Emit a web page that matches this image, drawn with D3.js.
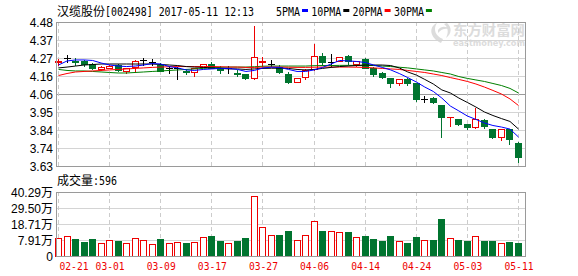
<!DOCTYPE html>
<html><head><meta charset="utf-8">
<script src="https://cdn.jsdelivr.net/npm/d3@7"></script>
<style>
body{margin:0;background:#fff}
svg{display:block}
</style>
</head><body>
<svg id="c" width="578" height="276"></svg>
<script>
// ---------------- DATA ----------------
const dates = ["02-21","02-22","02-23","02-24","02-27","02-28","03-01","03-02","03-03","03-06","03-07","03-08","03-09","03-10","03-13","03-14","03-15","03-16","03-17","03-20","03-21","03-22","03-23","03-24","03-27","03-28","03-29","03-30","03-31","04-05","04-06","04-07","04-10","04-11","04-12","04-13","04-14","04-17","04-18","04-19","04-20","04-21","04-24","04-25","04-26","04-27","04-28","05-02","05-03","05-04","05-05","05-08","05-09","05-10","05-11"];
const openP  = [4.246,4.265,4.250,4.247,4.232,4.201,4.211,4.226,4.188,4.216,4.256,4.246,4.226,4.211,4.206,4.190,4.185,4.216,4.230,4.209,4.207,4.180,4.173,4.149,4.246,4.235,4.214,4.173,4.126,4.155,4.200,4.282,4.241,4.250,4.278,4.232,4.260,4.206,4.177,4.148,4.122,4.142,4.118,4.027,4.030,3.990,3.917,3.907,3.876,3.860,3.904,3.847,3.799,3.847,3.763];
const highP  = [4.262,4.285,4.265,4.256,4.238,4.220,4.229,4.232,4.211,4.253,4.270,4.260,4.240,4.220,4.213,4.203,4.211,4.235,4.246,4.220,4.220,4.194,4.176,4.456,4.273,4.256,4.226,4.187,4.152,4.200,4.350,4.299,4.294,4.276,4.285,4.250,4.270,4.214,4.182,4.149,4.144,4.152,4.120,4.043,4.039,3.993,3.919,3.910,3.879,3.975,3.907,3.848,3.848,3.850,3.773];
const lowP   = [4.226,4.244,4.226,4.220,4.203,4.197,4.206,4.191,4.177,4.185,4.226,4.226,4.191,4.181,4.142,4.173,4.164,4.214,4.206,4.181,4.179,4.161,4.141,4.141,4.223,4.220,4.179,4.120,4.123,4.146,4.197,4.226,4.220,4.247,4.235,4.220,4.206,4.161,4.149,4.098,4.111,4.108,4.014,4.010,4.002,3.799,3.869,3.872,3.851,3.854,3.853,3.798,3.783,3.760,3.655];
const closeP = [4.248,4.265,4.241,4.232,4.206,4.216,4.223,4.197,4.209,4.250,4.256,4.246,4.193,4.211,4.206,4.186,4.209,4.230,4.209,4.194,4.207,4.175,4.152,4.272,4.248,4.235,4.182,4.123,4.149,4.197,4.278,4.245,4.241,4.272,4.250,4.247,4.209,4.176,4.154,4.122,4.142,4.120,4.023,4.027,4.010,3.921,3.919,3.878,3.860,3.906,3.869,3.799,3.847,3.788,3.681];
// volume, unit 万
const volume = [9.06,10.4,8.6,6.76,8.6,5.89,7.91,7.24,5.89,9.06,7.71,5.01,8.6,5.89,6.36,5.89,6.36,9.73,10.6,7.24,5.89,7.24,9.26,37.6,16.5,11.1,11.3,14.0,7.71,11.1,20.5,14.0,13.8,13.3,13.3,9.73,10.6,8.6,7.24,10.6,7.24,5.89,9.93,7.71,7.71,22.1,9.06,7.91,7.24,10.4,7.24,7.24,5.69,6.56,5.89];
const ma5  = [4.226,4.250,4.256,4.256,4.253,4.238,4.226,4.220,4.217,4.220,4.226,4.235,4.232,4.217,4.209,4.197,4.194,4.200,4.203,4.206,4.206,4.200,4.188,4.194,4.209,4.213,4.212,4.200,4.188,4.188,4.197,4.212,4.232,4.253,4.250,4.247,4.241,4.226,4.212,4.197,4.176,4.152,4.126,4.096,4.070,4.031,3.984,3.955,3.925,3.905,3.884,3.869,3.860,3.848,3.801];
const ma10 = [4.209,4.214,4.220,4.226,4.229,4.232,4.232,4.232,4.232,4.232,4.232,4.232,4.229,4.226,4.223,4.217,4.214,4.212,4.209,4.206,4.203,4.203,4.200,4.203,4.206,4.207,4.207,4.206,4.200,4.197,4.200,4.206,4.212,4.217,4.220,4.223,4.226,4.226,4.226,4.223,4.209,4.185,4.167,4.141,4.114,4.079,4.061,4.031,4.005,3.978,3.949,3.928,3.910,3.893,3.848];
const ma20 = [4.164,4.176,4.185,4.188,4.191,4.194,4.197,4.200,4.203,4.206,4.209,4.212,4.214,4.216,4.217,4.217,4.217,4.217,4.217,4.216,4.214,4.214,4.212,4.212,4.214,4.214,4.214,4.213,4.212,4.212,4.213,4.214,4.214,4.214,4.214,4.213,4.212,4.209,4.206,4.203,4.200,4.194,4.188,4.182,4.173,4.164,4.152,4.141,4.129,4.114,4.096,4.076,4.055,4.026,3.987];
const ma30 = [4.200,4.194,4.191,4.191,4.188,4.185,4.182,4.179,4.179,4.182,4.185,4.188,4.191,4.194,4.197,4.200,4.203,4.206,4.209,4.212,4.214,4.214,4.214,4.216,4.219,4.220,4.220,4.220,4.220,4.220,4.222,4.223,4.223,4.224,4.224,4.224,4.224,4.223,4.220,4.217,4.213,4.209,4.203,4.197,4.191,4.182,4.173,4.158,4.147,4.138,4.129,4.117,4.105,4.088,4.061];
const priceTickLabels = ["4.48","4.37","4.27","4.16","4.06","3.95","3.84","3.74","3.63"];
const priceMin = 3.63, priceMax = 4.48;
const volTickLabels = ["40.29万","29.50万","18.71万","7.91万","0"];
const volAxisMax = 40.29, volAxisStep = 10.79;
const dateTickLabels = ["02-21","03-01","03-09","03-17","03-27","04-06","04-14","04-24","05-03","05-11"];
const titleName = "汉缆股份", titleRest = "[002498] 2017-05-11 12:13";
const legendNames = ["5PMA","10PMA","20PMA","30PMA"];
const legendColors = ["#0000ff","#000000","#ff0000","#008000"];
const volLabel = "成交量:596";

// ---------------- LAYOUT ----------------
const L = 56, R = 525, PT = 22, PB = 166, VT = 192, VB = 256;
const RED = "#ee0000", GREEN = "#00742f", GRID = "#d4d4d4", BORDER = "#9a9a9a", DASH = "#cccccc";
const svg = d3.select("#c");
const hp = v => Math.round(v) + 0.5;

const x = d3.scalePoint().domain(dates).range([58.5, 518.5]);
const y = d3.scaleLinear().domain([priceMin, priceMax]).range([PB, PT]);
const vy = d3.scaleLinear().domain([volAxisMax - 4 * volAxisStep, volAxisMax]).range([VB, VT]);

const priceTickVals = d3.range(priceTickLabels.length).map(k => priceMax - k * (priceMax - priceMin) / (priceTickLabels.length - 1));
const volTickVals = d3.range(volTickLabels.length).map(k => volAxisMax - k * volAxisStep);

// watermark
const wm = svg.append("g").attr("fill", "#dcdcdc");
wm.append("path").attr("d", "M441,43 C430,38 428,27 437,23 C433,29 435,36 443,39 Z M447,23 C452,27 452,34 446,38 C449,32 448,27 444,24 Z M438,30 C441,26 446,26 449,29 C445,28 441,29 438,33 Z");
wm.append("text").attr("x", 453).attr("y", 35).attr("font-family", "Noto Sans CJK SC").attr("font-weight", "bold")
  .attr("font-size", 14).attr("textLength", 72).attr("lengthAdjust", "spacingAndGlyphs").text("东方财富网");
wm.append("text").attr("x", 453).attr("y", 46).attr("font-family", "DejaVu Sans").attr("font-weight", "bold")
  .attr("font-size", 8).attr("textLength", 72).attr("lengthAdjust", "spacingAndGlyphs").text("eastmoney.com");

// price grid
const grid = svg.append("g").attr("shape-rendering", "crispEdges");
priceTickVals.forEach((v, k) => {
  if (k === 0 || k === priceTickVals.length - 1) return;
  grid.append("line").attr("x1", L).attr("x2", R).attr("y1", hp(y(v)) ).attr("y2", hp(y(v)))
    .attr("stroke", k === 4 ? BORDER : GRID);
});
volTickVals.forEach((v, k) => {
  if (k === 0 || k === volTickVals.length - 1) return;
  grid.append("line").attr("x1", L).attr("x2", R).attr("y1", hp(vy(v))).attr("y2", hp(vy(v))).attr("stroke", GRID);
});
dateTickLabels.forEach(d => {
  const xx = hp(x(d) - 0.5);
  grid.append("line").attr("x1", xx).attr("x2", xx).attr("y1", PT).attr("y2", PB).attr("stroke", DASH).attr("stroke-dasharray", "4,3");
  grid.append("line").attr("x1", xx).attr("x2", xx).attr("y1", VT).attr("y2", VB).attr("stroke", DASH).attr("stroke-dasharray", "4,3");
});

// candles
const cg = svg.append("g").attr("shape-rendering", "crispEdges");
dates.forEach((d, i) => {
  const cx = Math.round(x(d) - 0.5);
  const o = openP[i], c = closeP[i], h = highP[i], l = lowP[i];
  const yo = Math.round(y(o)), yc = Math.round(y(c)), yh = Math.round(y(h)), yl = Math.round(y(l));
  const col = c > o ? RED : (c < o ? GREEN : "#000");
  const wx = cx + 0.5;
  if (Math.abs(yo - yc) < 1) {
    cg.append("line").attr("x1", wx).attr("x2", wx).attr("y1", yh).attr("y2", yl + 1).attr("stroke", col);
    cg.append("line").attr("x1", cx - 3).attr("x2", cx + 4).attr("y1", yc + 0.5).attr("y2", yc + 0.5).attr("stroke", col);
  } else if (c > o) {
    cg.append("line").attr("x1", wx).attr("x2", wx).attr("y1", yh).attr("y2", yc).attr("stroke", col);
    cg.append("line").attr("x1", wx).attr("x2", wx).attr("y1", yo).attr("y2", yl + 1).attr("stroke", col);
    cg.append("rect").attr("x", cx - 2.5).attr("y", yc + 0.5).attr("width", 6).attr("height", yo - yc)
      .attr("fill", "#fff").attr("stroke", col);
  } else {
    cg.append("line").attr("x1", wx).attr("x2", wx).attr("y1", yh).attr("y2", yl + 1).attr("stroke", col);
    cg.append("rect").attr("x", cx - 3).attr("y", yo).attr("width", 7).attr("height", yc - yo + 1).attr("fill", col);
  }
});

// volume bars
const vg = svg.append("g").attr("shape-rendering", "crispEdges");
dates.forEach((d, i) => {
  const cx = Math.round(x(d) - 0.5);
  const top = Math.round(vy(volume[i]));
  const up = closeP[i] >= openP[i];
  if (up) {
    vg.append("rect").attr("x", cx - 2.5).attr("y", top + 0.5).attr("width", 6).attr("height", VB - top - 0.5)
      .attr("fill", "#fff").attr("stroke", RED);
  } else {
    vg.append("rect").attr("x", cx - 3).attr("y", top).attr("width", 7).attr("height", VB - top).attr("fill", GREEN);
  }
});

// moving averages
const line = d3.line().x((v, i) => x(dates[i])).y(v => y(v));
[[ma30, legendColors[3]], [ma20, legendColors[2]], [ma10, legendColors[1]], [ma5, legendColors[0]]].forEach(([arr, col]) => {
  svg.append("path").datum(arr).attr("d", line).attr("fill", "none").attr("stroke", col).attr("stroke-width", 1);
});

// borders
const bg = svg.append("g").attr("shape-rendering", "crispEdges").attr("fill", "none").attr("stroke", BORDER);
bg.append("rect").attr("x", L + 0.5).attr("y", PT + 0.5).attr("width", R - L).attr("height", PB - PT);
bg.append("rect").attr("x", L + 0.5).attr("y", VT + 0.5).attr("width", R - L).attr("height", VB - VT);

// axes
const fontAxis = "Liberation Sans, Arial, sans-serif";
const ay = svg.append("g").attr("transform", `translate(${L},0.5)`)
  .call(d3.axisLeft(y).tickValues(priceTickVals).tickFormat((d, i) => priceTickLabels[i]).tickSize(0).tickPadding(3));
ay.select(".domain").remove();
ay.selectAll("text").attr("font-family", fontAxis).attr("font-size", 12).attr("fill", "#000");

const av = svg.append("g").attr("transform", `translate(${L},0.5)`)
  .call(d3.axisLeft(vy).tickValues(volTickVals).tickFormat((d, i) => volTickLabels[i]).tickSize(0).tickPadding(3));
av.select(".domain").remove();
av.selectAll("text").attr("font-family", "Liberation Sans, Noto Sans CJK SC, sans-serif").attr("font-size", 12).attr("fill", "#000");

const ax = svg.append("g").attr("transform", `translate(0,${VB})`)
  .call(d3.axisBottom(x).tickValues(dateTickLabels).tickSize(0).tickPadding(7));
ax.select(".domain").remove();
ax.selectAll("text").attr("font-family", "DejaVu Sans Mono, monospace").attr("font-size", 10.5).attr("fill", RED)
  .attr("textLength", 29).attr("lengthAdjust", "spacingAndGlyphs")
  .each(function (d, i) { if (i === 0) d3.select(this).attr("text-anchor", "start").attr("x", 59 - x(d)); });

// title
svg.append("text").attr("x", 57).attr("y", 15.5).attr("font-family", "Noto Sans CJK SC").attr("font-size", 12)
  .attr("textLength", 48).attr("lengthAdjust", "spacingAndGlyphs").text(titleName);
svg.append("text").attr("x", 105).attr("y", 15.5).attr("font-family", "DejaVu Sans Mono, monospace").attr("font-size", 11.5)
  .attr("textLength", 149).attr("lengthAdjust", "spacingAndGlyphs").text(titleRest);

// legend
let lx = 276;
legendNames.forEach((n, i) => {
  const w = n.length * 6;
  svg.append("text").attr("x", lx).attr("y", 15.5).attr("font-family", "DejaVu Sans Mono, monospace").attr("font-size", 11.5)
    .attr("textLength", w).attr("lengthAdjust", "spacingAndGlyphs").text(n);
  svg.append("rect").attr("x", lx + w + 2).attr("y", 9).attr("width", 6).attr("height", 3).attr("fill", legendColors[i]);
  lx += w + 2 + 6 + 3.3;
});

// volume label
svg.append("text").attr("x", 57).attr("y", 184.5).attr("font-family", "Noto Sans CJK SC").attr("font-size", 12)
  .attr("textLength", 36).attr("lengthAdjust", "spacingAndGlyphs").text(volLabel.slice(0, 3));
svg.append("text").attr("x", 93).attr("y", 184.5).attr("font-family", "DejaVu Sans Mono, monospace").attr("font-size", 11.5)
  .attr("textLength", 24).attr("lengthAdjust", "spacingAndGlyphs").text(volLabel.slice(3));
</script>
</body></html>
